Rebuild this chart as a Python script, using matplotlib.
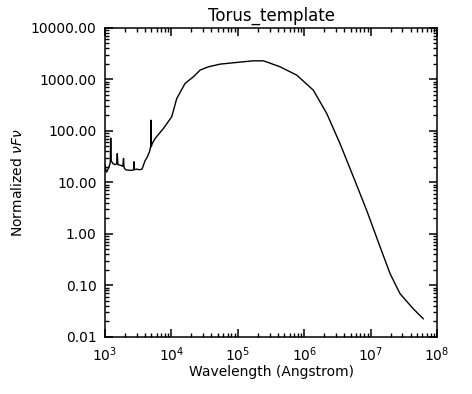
import numpy as np
import matplotlib
matplotlib.use("Agg")
import matplotlib.pyplot as plt
from matplotlib.ticker import FuncFormatter, NullFormatter

# Torus template SED
wavelength = [1000, 1030, 1060, 1150, 1200, 1218, 1240, 1320, 1420, 1500, 1530,
              1560, 1683, 1850, 1900, 1930, 1970, 2050, 2218, 2500, 2700,
              2735, 2770, 3000, 3300, 3610, 4000, 4337, 4700, 4880, 4930,
              4980, 5100, 5670, 7550, 10090, 12030, 16030, 21380, 27000,
              35980, 54000, 96200, 171000, 242000, 288000, 433000, 771000,
              1.37e6, 2.18e6, 3.46e6, 5.5e6, 8.7e6, 1.39e7, 1.96e7, 2.77e7,
              4.4e7, 6.2e7]
flux = [21.5, 17.0, 15.8, 20.0, 24.0, 72.0, 26.0, 23.0, 22.0, 23.0, 36.0,
        22.0, 21.5, 20.5, 29.0, 20.0, 18.5, 17.5, 17.2, 17.0, 17.5,
        25.0, 17.5, 18.0, 17.5, 18.0, 26.0, 31.0, 40.0, 50.0, 160.0,
        49.0, 55.0, 70.5, 110.0, 186.0, 422.0, 826.0, 1109.0, 1496.0,
        1734.0, 1955.0, 2110.0, 2265.0, 2265.0, 2100.0, 1734.0, 1196.0,
        611.0, 216.0, 56.0, 12.7, 2.86, 0.555, 0.169, 0.069,
        0.035, 0.0226]

xmajor = [1e3, 1e4, 1e5, 1e6, 1e7, 1e8]
ymajor = [0.01, 0.1, 1, 10, 100, 1000, 10000]

fig, ax = plt.subplots(figsize=(4.72, 3.94), dpi=100)
fig.subplots_adjust(left=0.2225, right=0.926, bottom=0.1447, top=0.930)

ax.plot(wavelength, flux, color="black", linewidth=1.0)
ax.set_xscale("log")
ax.set_yscale("log")
ax.set_xlim(1e3, 1e8)
ax.set_ylim(0.01, 10000)

# IDL style minor ticks at 2..9 in every decade
xminor = [m * v for v in xmajor[:-1] for m in range(2, 10)]
yminor = [m * v for v in ymajor[:-1] for m in range(2, 10)]
ax.set_xticks(xmajor)
ax.set_yticks(ymajor)
ax.set_xticks(xminor, minor=True)
ax.set_yticks(yminor, minor=True)
ax.xaxis.set_minor_formatter(NullFormatter())
ax.yaxis.set_minor_formatter(NullFormatter())
ax.yaxis.set_major_formatter(FuncFormatter(lambda v, p: "%.2f" % v))

ax.tick_params(which="both", direction="in", top=True, right=True,
               labelsize=10, colors="black")
ax.tick_params(which="major", length=5.5, width=1.1, pad=6)
ax.tick_params(which="minor", length=3, width=1.0)
for s in ax.spines.values():
    s.set_linewidth(1.1)

ax.set_title("Torus_template", fontsize=12, pad=5)
ax.set_xlabel("Wavelength (Angstrom)", fontsize=10, labelpad=1)
ax.set_ylabel(r"Normalized $\nu F \nu$", fontsize=10, labelpad=4)

fig.savefig("out.png", dpi=100)
